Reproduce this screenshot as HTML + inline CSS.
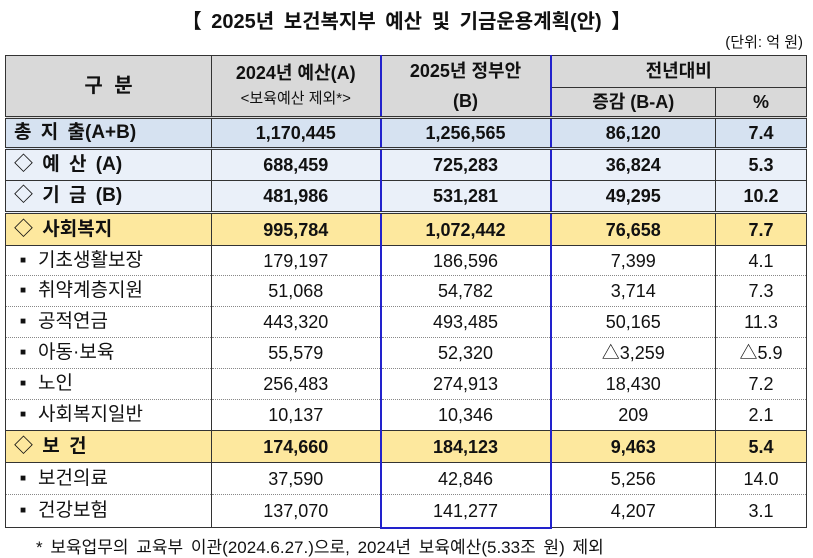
<!DOCTYPE html>
<html><head><meta charset="utf-8"><style>
body{margin:0;width:813px;height:557px;background:#fff;font-family:"Liberation Sans","Noto Sans CJK KR",sans-serif;position:relative;overflow:hidden;color:#111}
.t{position:absolute;left:0;width:813px;top:5px;text-align:center;font-weight:bold;font-size:20px;word-spacing:4px}
.u{position:absolute;right:10px;top:31px;font-size:15px}
table{position:absolute;left:5px;top:55px;border-collapse:collapse;table-layout:fixed;width:801px}
td{border:1px solid #333;text-align:center;padding:0;font-size:18px;white-space:nowrap;line-height:20px}
.h td{background:#d9d9d9;font-weight:bold}
.b td{font-weight:bold}
.tot td{background:#d6e2f1}
.lb td{background:#eaf0f9}
.y td{background:#fde89e}
td.l{text-align:left;padding-left:8px;font-size:19px;word-spacing:4px}
td.s{text-align:left;padding-left:14px;font-size:19px}
.bb{border-bottom:3px double #333}
.dl{border-left:2px solid #2222cc}
.dr{border-right:2px solid #2222cc}
.dot{border-left:1px dotted #333}
tr.n td{border-top:1px dotted #888;border-bottom:1px dotted #888}
.sq{font-size:10px;margin-right:12px;vertical-align:3px}
.f{position:absolute;left:36px;top:533px;font-size:17px;word-spacing:3px}
</style></head><body>
<div class="t">【 2025년 보건복지부 예산 및 기금운용계획(안) 】</div>
<div class="u">(단위: 억 원)</div>
<table>
<colgroup><col style="width:206px"><col style="width:169px"><col style="width:170px"><col style="width:165px"><col style="width:91px"></colgroup>
<tr class="h" style="height:30px"><td rowspan="2" class="bb" style="font-size:20px;word-spacing:6px">구 분</td><td rowspan="2" class="bb" style="line-height:24px">2024년 예산(A)<br><span style="font-weight:normal;font-size:15px">&lt;보육예산 제외*&gt;</span></td><td rowspan="2" class="bb dl dr" style="line-height:30px">2025년 정부안<br>(B)</td><td colspan="2">전년대비</td></tr>
<tr class="h" style="height:29px"><td class="bb">증감 (B-A)</td><td class="bb dot">%</td></tr>
<tr class="b tot" style="height:31px"><td class="l bb">총 지 출(A+B)</td><td class="bb">1,170,445</td><td class="bb dl dr">1,256,565</td><td class="bb">86,120</td><td class="bb dot">7.4</td></tr>
<tr class="b lb" style="height:32px"><td class="l">◇ 예 산 (A)</td><td>688,459</td><td class="dl dr">725,283</td><td>36,824</td><td class="dot">5.3</td></tr>
<tr class="b lb" style="height:32px"><td class="l bb">◇ 기 금 (B)</td><td class="bb">481,986</td><td class="bb dl dr">531,281</td><td class="bb">49,295</td><td class="bb dot">10.2</td></tr>
<tr class="b y" style="height:33px"><td class="l">◇ 사회복지</td><td>995,784</td><td class="dl dr">1,072,442</td><td>76,658</td><td class="dot">7.7</td></tr>
<tr class="n" style="height:30px"><td class="s"><span class="sq">■</span>기초생활보장</td><td>179,197</td><td class="dl dr">186,596</td><td>7,399</td><td class="dot">4.1</td></tr>
<tr class="n" style="height:31px"><td class="s"><span class="sq">■</span>취약계층지원</td><td>51,068</td><td class="dl dr">54,782</td><td>3,714</td><td class="dot">7.3</td></tr>
<tr class="n" style="height:31px"><td class="s"><span class="sq">■</span>공적연금</td><td>443,320</td><td class="dl dr">493,485</td><td>50,165</td><td class="dot">11.3</td></tr>
<tr class="n" style="height:31px"><td class="s"><span class="sq">■</span>아동·보육</td><td>55,579</td><td class="dl dr">52,320</td><td>△3,259</td><td class="dot">△5.9</td></tr>
<tr class="n" style="height:31px"><td class="s"><span class="sq">■</span>노인</td><td>256,483</td><td class="dl dr">274,913</td><td>18,430</td><td class="dot">7.2</td></tr>
<tr class="n" style="height:31px"><td class="s"><span class="sq">■</span>사회복지일반</td><td>10,137</td><td class="dl dr">10,346</td><td>209</td><td class="dot">2.1</td></tr>
<tr class="b y" style="height:32px"><td class="l">◇ 보 건</td><td>174,660</td><td class="dl dr">184,123</td><td>9,463</td><td class="dot">5.4</td></tr>
<tr class="n" style="height:32px"><td class="s"><span class="sq">■</span>보건의료</td><td>37,590</td><td class="dl dr">42,846</td><td>5,256</td><td class="dot">14.0</td></tr>
<tr style="height:33px"><td class="s" style="border-top:1px dotted #888"><span class="sq">■</span>건강보험</td><td style="border-top:1px dotted #888">137,070</td><td class="dl dr" style="border-top:1px dotted #888;border-bottom:2px solid #2222cc">141,277</td><td style="border-top:1px dotted #888">4,207</td><td class="dot" style="border-top:1px dotted #888">3.1</td></tr>
</table>
<div class="f">* 보육업무의 교육부 이관(2024.6.27.)으로, 2024년 보육예산(5.33조 원) 제외</div>
</body></html>
